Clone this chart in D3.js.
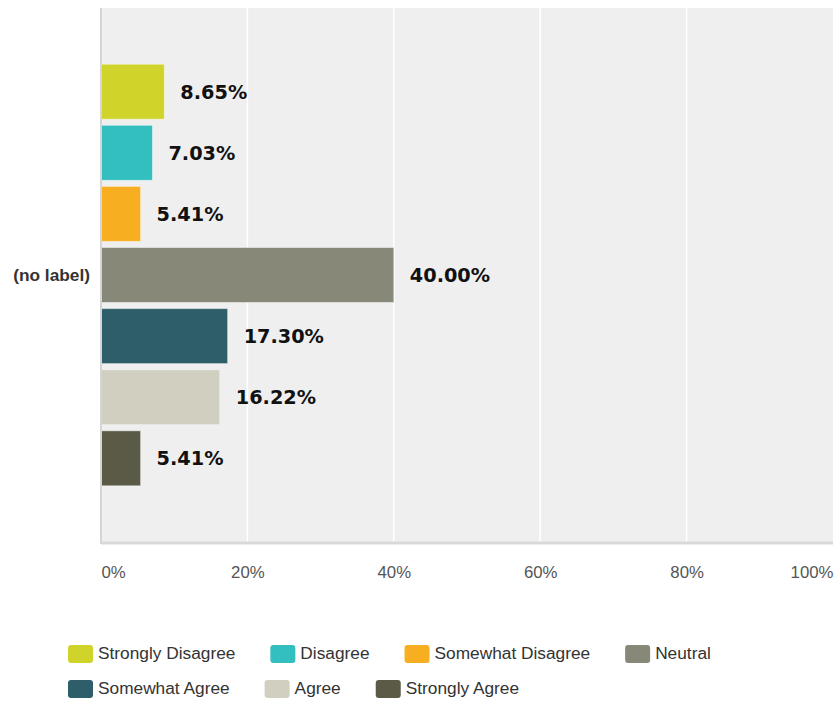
<!DOCTYPE html>
<html>
<head>
<meta charset="utf-8">
<script src="https://cdn.jsdelivr.net/npm/d3@7"></script>
<style>
  html, body { margin: 0; padding: 0; background: #ffffff; }
  svg { display: block; }
</style>
</head>
<body>
<svg id="chart" width="837" height="701"></svg>
<script>
// Survey responses for a single question, share of respondents per answer
const categories = ["Strongly Disagree", "Disagree", "Somewhat Disagree", "Neutral", "Somewhat Agree", "Agree", "Strongly Agree"];
const values = [8.65, 7.03, 5.41, 40.00, 17.30, 16.22, 5.41];
const colors = ["#d0d42a", "#33bebf", "#f7ae21", "#878877", "#2e5e6a", "#d0cfc0", "#5b5a47"];
const tickValues = [0, 20, 40, 60, 80, 100];
const rowLabel = "(no label)";

const svg = d3.select("#chart");
const plot = { left: 101, right: 833, top: 8, bottom: 542 };

const x = d3.scaleLinear().domain([0, 100]).range([plot.left, plot.right]);
const y = d3.scaleBand().domain(categories).range([plot.top, plot.bottom])
  .paddingInner(0.1).paddingOuter(0.92);
const color = d3.scaleOrdinal().domain(categories).range(colors);

// plot background
svg.append("rect")
  .attr("x", plot.left).attr("y", plot.top)
  .attr("width", plot.right - plot.left).attr("height", plot.bottom - plot.top)
  .attr("fill", "#efefef");

// vertical gridlines
svg.append("g").selectAll("line")
  .data(tickValues.filter(d => d > 0 && d < 100))
  .join("line")
  .attr("x1", d => x(d)).attr("x2", d => x(d))
  .attr("y1", plot.top).attr("y2", plot.bottom)
  .attr("stroke", "#ffffff").attr("stroke-width", 1.5);

// bars
const data = categories.map((c, i) => ({ cat: c, value: values[i] }));
svg.append("g").selectAll("rect")
  .data(data)
  .join("rect")
  .attr("x", x(0))
  .attr("y", d => y(d.cat))
  .attr("width", d => x(d.value) - x(0))
  .attr("height", y.bandwidth())
  .attr("fill", d => color(d.cat))
  .attr("stroke", "rgba(255,255,255,0.45)")
  .attr("stroke-width", 1);

// value labels
svg.append("g").selectAll("text")
  .data(data)
  .join("text")
  .attr("x", d => x(d.value) + 16)
  .attr("y", d => y(d.cat) + y.bandwidth() / 2)
  .attr("dy", "0.36em")
  .attr("font-family", "DejaVu Sans, Verdana, sans-serif")
  .attr("font-weight", "bold")
  .attr("font-size", 19.3)
  .attr("fill", "#111111")
  .text(d => d.value.toFixed(2) + "%");

// axis lines
svg.append("line")
  .attr("x1", plot.left).attr("x2", plot.right)
  .attr("y1", plot.bottom + 1).attr("y2", plot.bottom + 1)
  .attr("stroke", "#d9d9d9").attr("stroke-width", 3);
svg.append("line")
  .attr("x1", plot.left).attr("x2", plot.left)
  .attr("y1", plot.top).attr("y2", plot.bottom + 2)
  .attr("stroke", "#d5d5d5").attr("stroke-width", 2);

// x axis tick labels
const xAxis = d3.axisBottom(x).tickValues(tickValues).tickSize(0).tickFormat(d => d + "%");
const gx = svg.append("g")
  .attr("transform", `translate(0,${plot.bottom + 21})`)
  .call(xAxis);
gx.select(".domain").remove();
gx.selectAll("text")
  .attr("font-family", "Liberation Sans, Arial, sans-serif")
  .attr("font-size", 16.8)
  .attr("fill", "#555555")
  .attr("text-anchor", (d, i) => i === 0 ? "start" : (i === tickValues.length - 1 ? "end" : "middle"));

// row label
svg.append("text")
  .attr("x", 90)
  .attr("y", y(categories[3]) + y.bandwidth() / 2)
  .attr("dy", "0.36em")
  .attr("text-anchor", "end")
  .attr("font-family", "Liberation Sans, Arial, sans-serif")
  .attr("font-weight", "bold")
  .attr("font-size", 17.3)
  .attr("fill", "#333333")
  .text(rowLabel);

// legend, laid out as a wrapping flow of swatch + label
const legend = svg.append("g");
const rowY = [654, 689];
const startX = 68, maxX = 800, swatchW = 25, swatchH = 18, gapText = 5, gapItem = 35;
let cx = startX, row = 0;
categories.forEach(c => {
  const item = legend.append("g");
  const t = item.append("text")
    .attr("font-family", "Liberation Sans, Arial, sans-serif")
    .attr("font-size", 17.3)
    .attr("fill", "#333333")
    .attr("dy", "0.35em")
    .text(c);
  const w = t.node().getComputedTextLength();
  if (cx + swatchW + gapText + w > maxX) { row += 1; cx = startX; }
  item.attr("transform", `translate(${cx},${rowY[row]})`);
  item.insert("rect", "text")
    .attr("x", 0).attr("y", -swatchH / 2)
    .attr("width", swatchW).attr("height", swatchH)
    .attr("rx", 3).attr("ry", 3)
    .attr("fill", color(c));
  t.attr("x", swatchW + gapText).attr("y", -1);
  cx += swatchW + gapText + w + gapItem;
});
</script>
</body>
</html>
